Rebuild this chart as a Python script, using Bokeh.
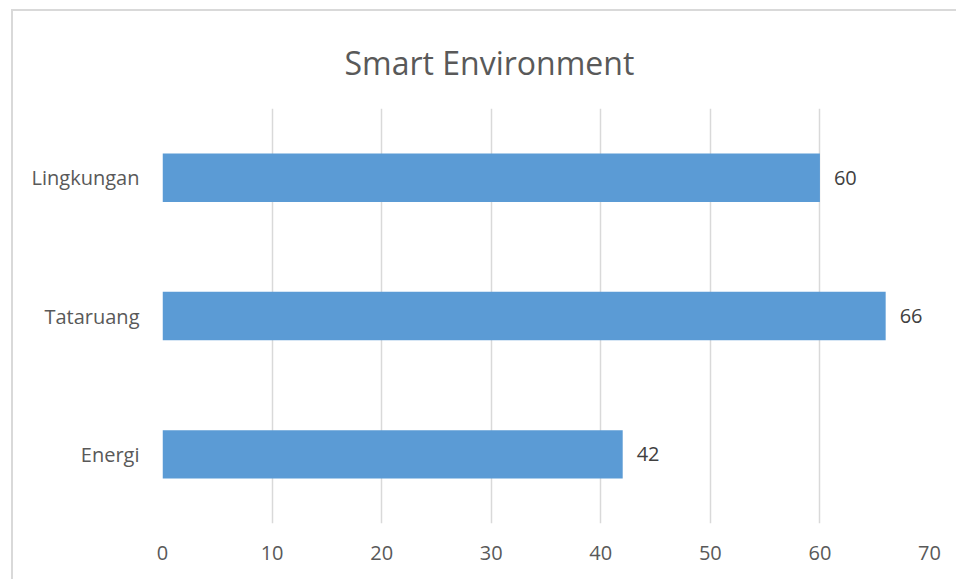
from bokeh.plotting import figure
from bokeh.models import ColumnDataSource, LabelSet, FixedTicker, Range1d, FactorRange
from bokeh.core.properties import value
from bokeh.embed import file_html
from bokeh.resources import INLINE

categories = ["Energi", "Tataruang", "Lingkungan"]
values = [42, 66, 60]
x_ticks = [0, 10, 20, 30, 40, 50, 60, 70]
title_text = "Smart Environment"

FONT = "Open Sans"
BAR_COLOR = "#5B9BD5"
GRID_COLOR = "#D9D9D9"

source = ColumnDataSource(data=dict(cat=categories, val=values, lab=[str(v) for v in values]))

p = figure(
    width=945, height=570,
    y_range=FactorRange(*categories, range_padding=0),
    x_range=Range1d(0, 70),
    output_backend="svg", toolbar_location=None,
    min_border_left=149, min_border_right=29,
    min_border_top=97, min_border_bottom=58,
    margin=(9, 0, 0, 11),
    styles={"border-left": "2px solid #D9D9D9", "border-top": "2px solid #D9D9D9"},
)
p.outline_line_color = None
p.background_fill_color = "white"
p.border_fill_color = "white"

p.title.text = title_text
p.title.align = "left"
p.title.vertical_align = "bottom"
p.title.offset = 182
p.title.standoff = 50
p.title.text_font = FONT
p.title.text_font_size = "32px"
p.title.text_font_style = "normal"
p.title.text_color = "#595959"

p.hbar(y="cat", right="val", left=0, height=0.35, source=source,
       fill_color=BAR_COLOR, line_color=None)

# vertical gridlines only
p.xgrid.ticker = FixedTicker(ticks=x_ticks)
p.xgrid.grid_line_color = GRID_COLOR
p.xgrid.grid_line_width = 1.5
p.ygrid.grid_line_color = None
p.xgrid.level = "underlay"

p.xaxis.ticker = FixedTicker(ticks=x_ticks)
for ax in (p.xaxis[0], p.yaxis[0]):
    ax.axis_line_color = None
    ax.major_tick_line_color = None
    ax.minor_tick_line_color = None
    ax.major_tick_out = 0
    ax.major_tick_in = 0
    ax.major_label_text_font = FONT
    ax.major_label_text_font_size = "20px"
    ax.major_label_text_color = "#595959"
p.xaxis.major_label_standoff = 22
p.yaxis.major_label_standoff = 23

labels = LabelSet(x="val", y="cat", text="lab", source=source,
                  x_offset=14, text_align="left", text_baseline="middle",
                  text_font=value(FONT), text_font_size=value("20px"),
                  text_color="#404040")
p.add_layout(labels)

open("out.html", "w").write(file_html(p, INLINE))
